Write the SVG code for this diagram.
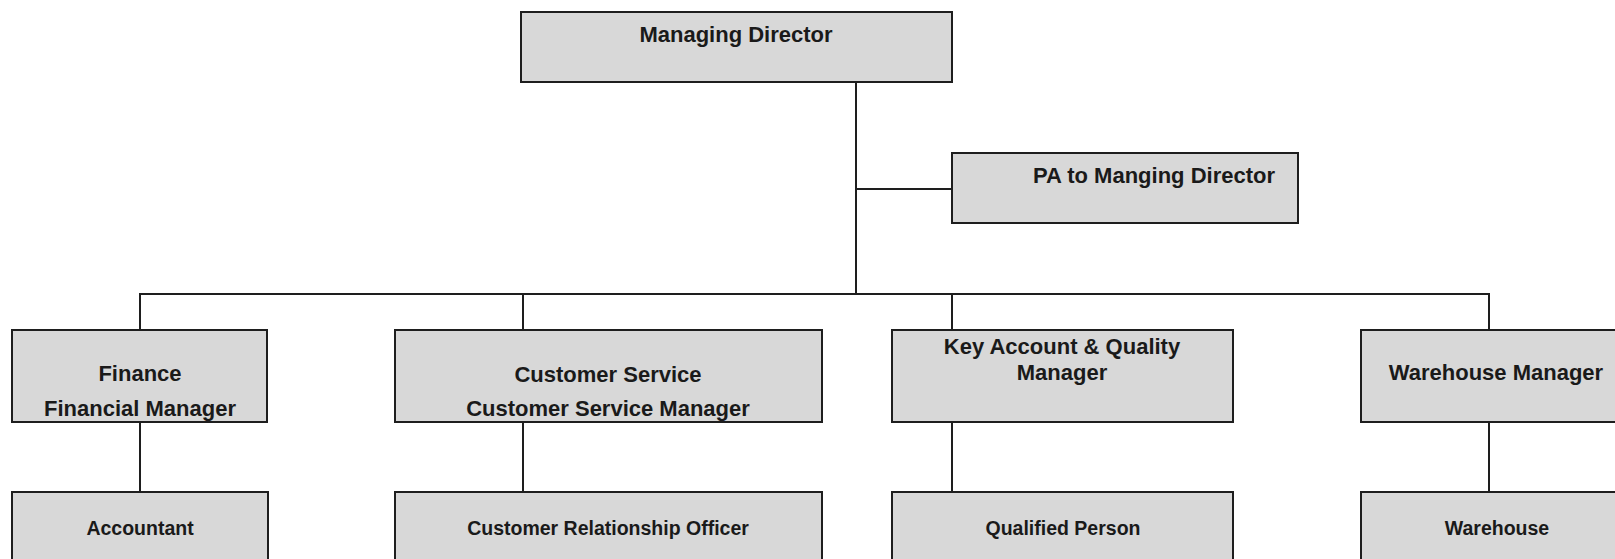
<svg xmlns="http://www.w3.org/2000/svg" width="1615" height="559" viewBox="0 0 1615 559">
<style>
.box{fill:#d8d8d8;stroke:#1e1e1e;stroke-width:2}
.t{font-family:"Liberation Sans",Arial,sans-serif;font-weight:bold;fill:#1a1a1a;text-anchor:middle}
.l{font-size:22px}
.s{font-size:19.5px}
.c{stroke:#1e1e1e;stroke-width:2;fill:none}
</style>
<rect width="1615" height="559" fill="#ffffff"/>
<g id="connectors">
<path class="c" d="M856 82V294M856 189H952M140 330V294H1489V330M523 294V330M952 294V330"/>
<path class="c" d="M140 422V492M523 422V492M952 422V492M1489 422V492"/>
</g>
<g id="managing-director">
<rect class="box" x="521" y="12" width="431" height="70"/>
<text class="t" x="736" y="42" font-size="22">Managing Director</text>
</g>
<g id="pa">
<rect class="box" x="952" y="153" width="346" height="70"/>
<text class="t l" x="1033" y="183" style="text-anchor:start">PA to Manging Director</text>
</g>
<g id="finance">
<rect class="box" x="12" y="330" width="255" height="92"/>
<text class="t l" x="140" y="381">Finance</text>
<text class="t l" x="140" y="416">Financial Manager</text>
</g>
<g id="customer-service">
<rect class="box" x="395" y="330" width="427" height="92"/>
<text class="t l" x="608" y="382">Customer Service</text>
<text class="t l" x="608" y="416">Customer Service Manager</text>
</g>
<g id="key-account">
<rect class="box" x="892" y="330" width="341" height="92"/>
<text class="t l" x="1062" y="354">Key Account &amp; Quality</text>
<text class="t l" x="1062" y="380">Manager</text>
</g>
<g id="warehouse-manager">
<rect class="box" x="1361" y="330" width="270" height="92"/>
<text class="t l" x="1496" y="380">Warehouse Manager</text>
</g>
<g id="accountant">
<rect class="box" x="12" y="492" width="256" height="80"/>
<text class="t s" x="140" y="535">Accountant</text>
</g>
<g id="customer-relationship-officer">
<rect class="box" x="395" y="492" width="427" height="80"/>
<text class="t s" x="608" y="535">Customer Relationship Officer</text>
</g>
<g id="qualified-person">
<rect class="box" x="892" y="492" width="341" height="80"/>
<text class="t s" x="1063" y="535">Qualified Person</text>
</g>
<g id="warehouse">
<rect class="box" x="1361" y="492" width="270" height="80"/>
<text class="t s" x="1497" y="535">Warehouse</text>
</g>
</svg>
